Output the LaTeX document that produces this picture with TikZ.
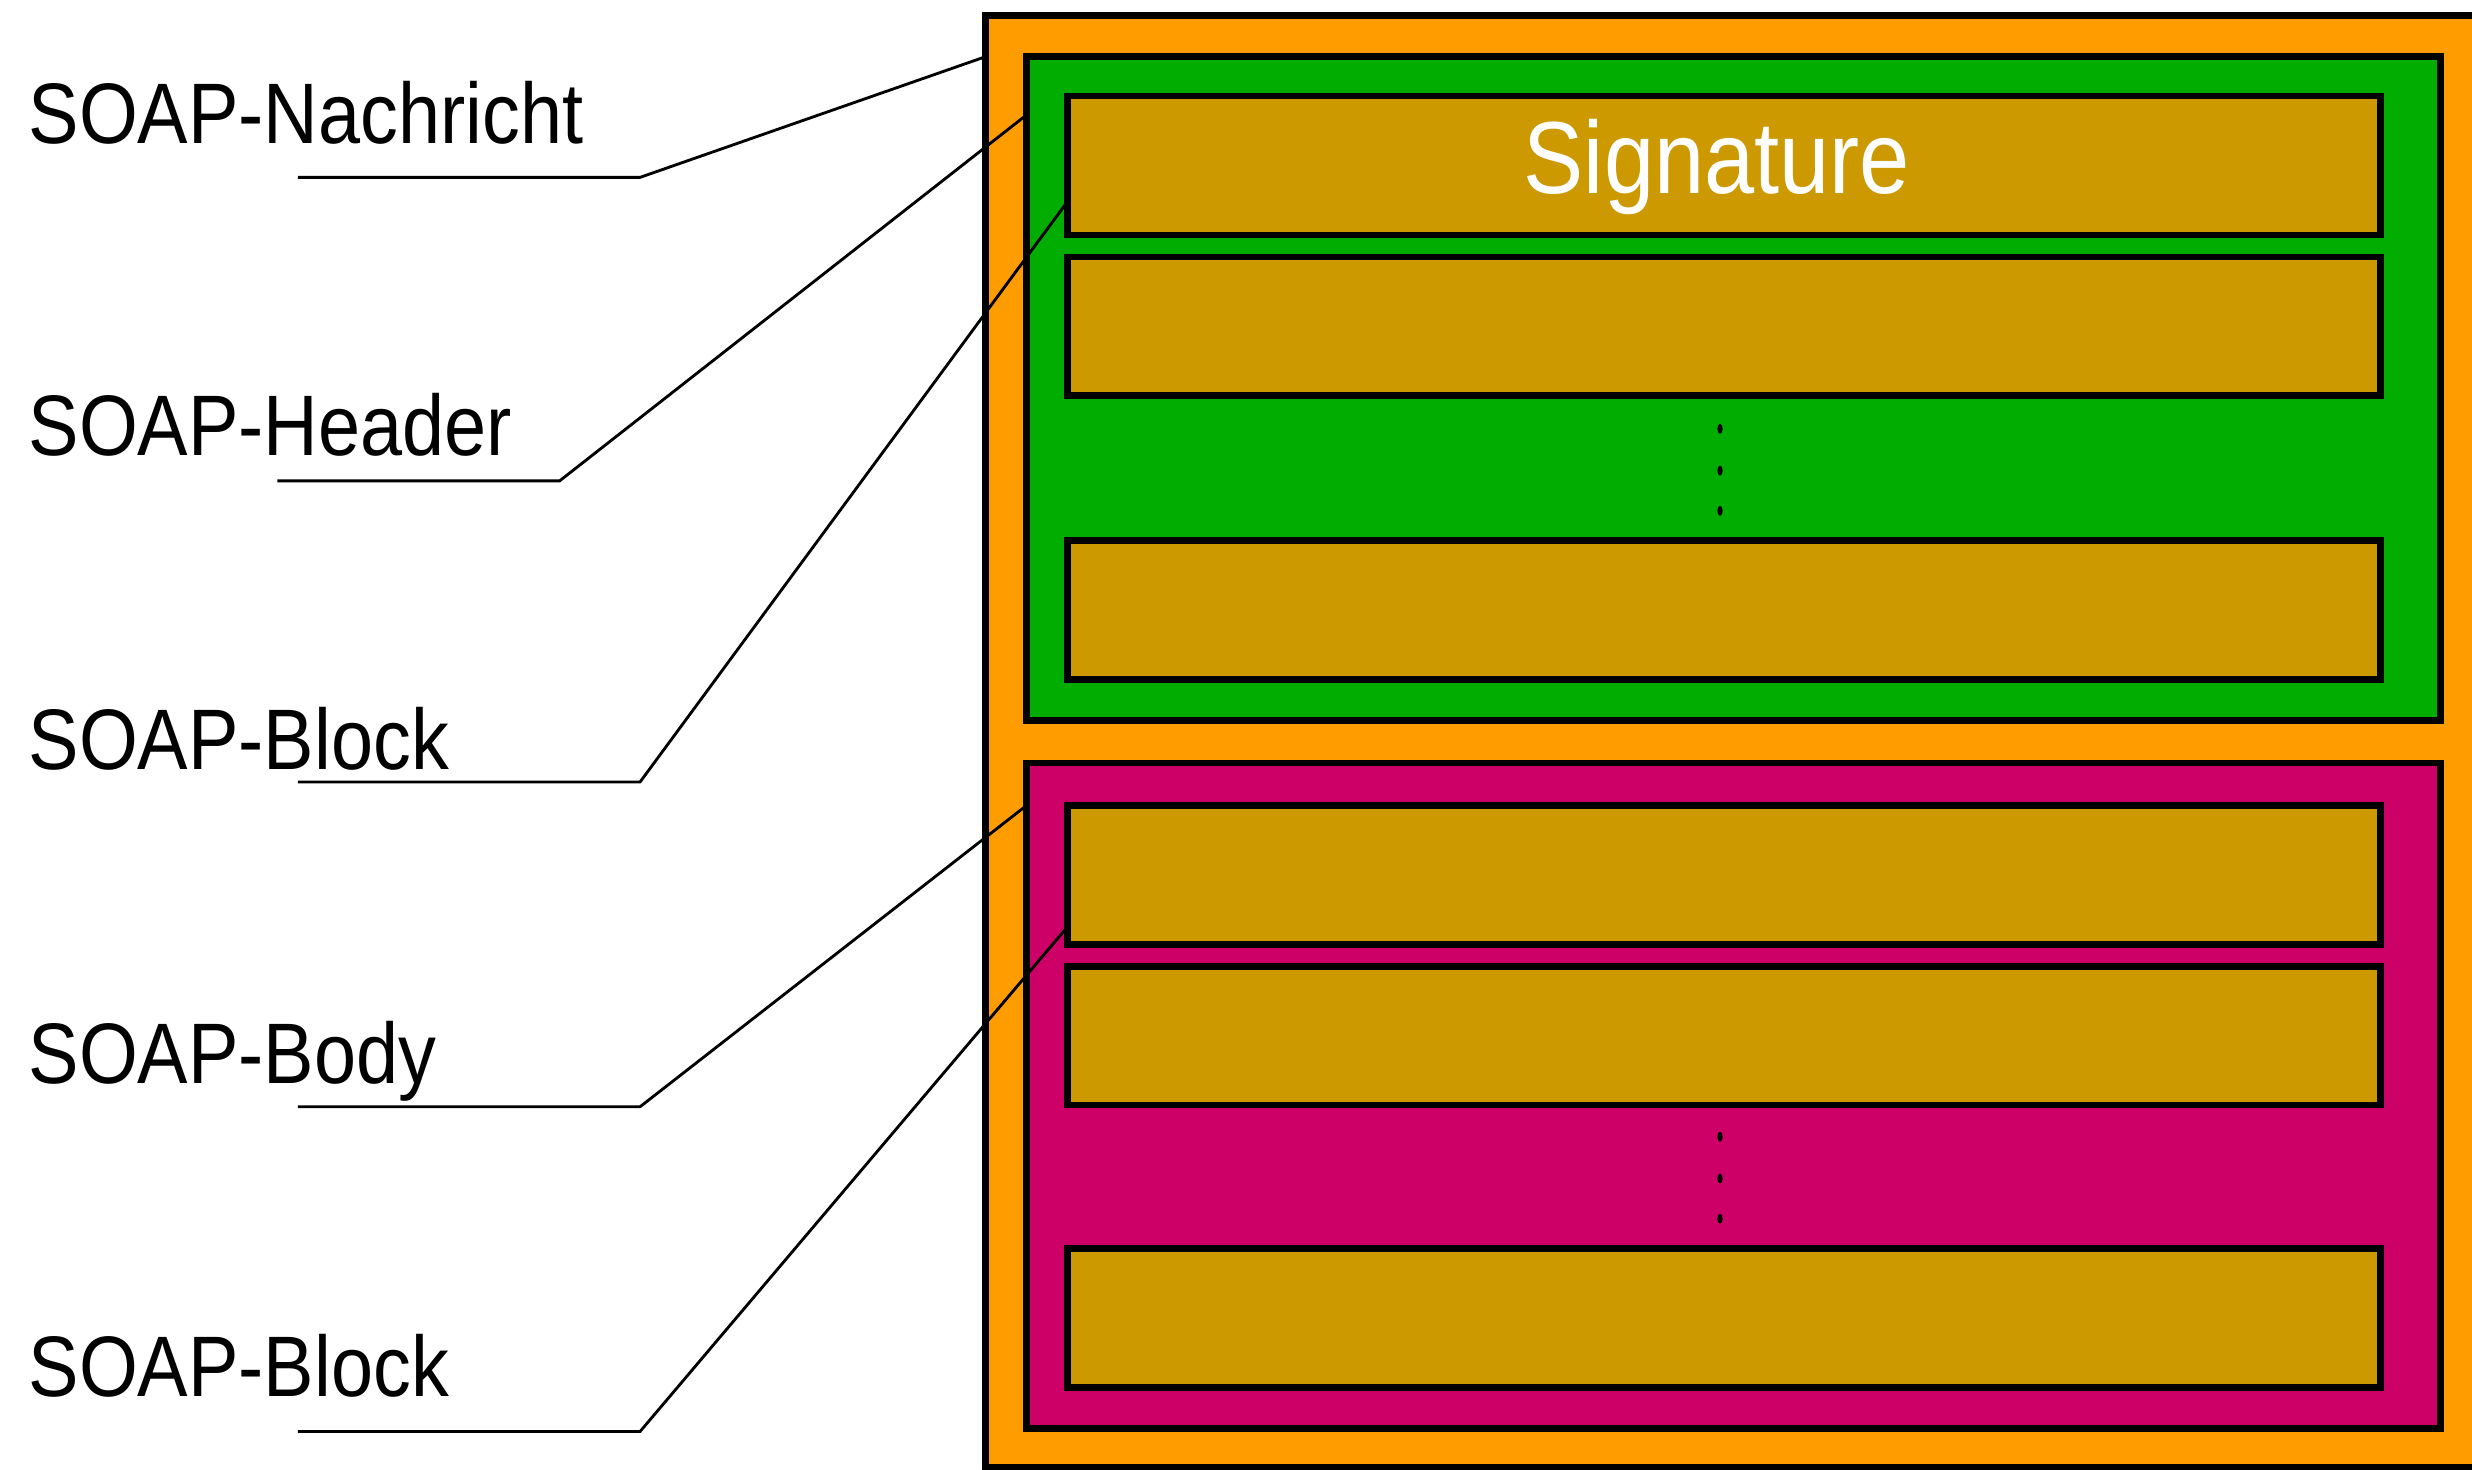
\documentclass[tikz,border=0pt]{standalone}
\usepackage{fontspec}
\setmainfont[FakeStretch=0.88]{Liberation Sans}
\definecolor{orangeC}{RGB}{255,156,0}
\definecolor{greenC}{RGB}{0,173,0}
\definecolor{magC}{RGB}{204,0,102}
\definecolor{goldC}{RGB}{204,153,0}
\begin{document}
\begin{tikzpicture}[x=1pt,y=-1pt,
  box/.style={draw=black, line width=4.2pt, rectangle, outer sep=0pt, inner sep=0pt, anchor=north west},
  blockbox/.style={box, fill=goldC, minimum width=833pt, minimum height=88pt},
  lbl/.style={anchor=base west, inner sep=0pt, font=\fontsize{54.5}{60}\selectfont},
  lead/.style={draw=black, line width=1.8pt},
  dotmark/.style={fill=black}]
\useasboundingbox (0,0) rectangle (1568,932);
\begin{scope}
\clip (0,0) rectangle (1568,932);
\node[box, fill=orangeC, minimum width=960pt, minimum height=921pt] (msg) at (625,10) {};
\end{scope}
% header
\node[box, fill=greenC, minimum width=897pt, minimum height=421pt] (hdr) at (651,36) {};
\node[blockbox] (sig) at (677,61) {};
\node[blockbox] (h2) at (677,163) {};
\node[blockbox] (h3) at (677,343) {};
\fill[dotmark] (1091,272) ellipse (1.7 and 3.2);
\fill[dotmark] (1091,298.5) ellipse (1.7 and 3.2);
\fill[dotmark] (1091,324) ellipse (1.7 and 3.2);
% body
\node[box, fill=magC, minimum width=897pt, minimum height=422pt] (body) at (651,484) {};
\node[blockbox] (b1) at (677,511) {};
\node[blockbox] (b2) at (677,613) {};
\node[blockbox] (b3) at (677,792) {};
\fill[dotmark] (1091,721) ellipse (1.7 and 3.2);
\fill[dotmark] (1091,747.5) ellipse (1.7 and 3.2);
\fill[dotmark] (1091,773) ellipse (1.7 and 3.2);
% signature text
\node[anchor=base, inner sep=0pt, text=white, font=\fontsize{65}{70}\selectfont] (sigtxt) at (1089,123) {Signature};
% labels
\node[lbl] (lNach) at (18,91) {SOAP-Nachricht};
\node[lbl] (lHead) at (18,289) {SOAP-Header};
\node[lbl] (lBlkA) at (18,488) {SOAP-Block};
\node[lbl] (lBody) at (18,687) {SOAP-Body};
\node[lbl] (lBlkB) at (18,886) {SOAP-Block};
% leader coordinates
\coordinate (u1) at (189,112.5); \coordinate (k1) at (406,112.5);
\coordinate (u2) at (176,305);   \coordinate (k2) at (355,305);
\coordinate (u3) at (189,496);   \coordinate (k3) at (406,496);
\coordinate (u4) at (189,702);   \coordinate (k4) at (406,702);
\coordinate (u5) at (189,908);   \coordinate (k5) at (406,908);
\draw[lead] (u1) -- (k1) -- (msg.west |- 0,36);
\draw[lead] (u2) -- (k2) -- (hdr.west |- 0,73);
\draw[lead] (u3) -- (k3) -- (sig.west |- 0,128);
\draw[lead] (u4) -- (k4) -- (body.west |- 0,511);
\draw[lead] (u5) -- (k5) -- (b1.west |- 0,588);
\end{tikzpicture}
\end{document}
